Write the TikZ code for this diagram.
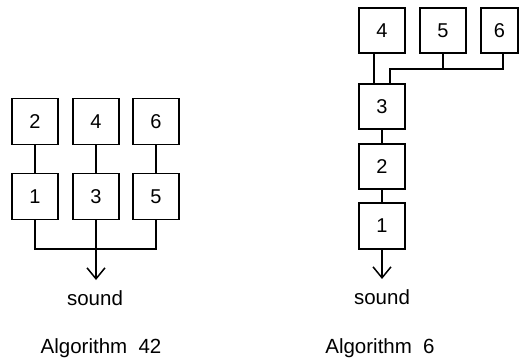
\documentclass[tikz,border=0pt]{standalone}
\usepackage{fontspec}
\setmainfont{Liberation Sans}
\usetikzlibrary{arrows.meta,calc}
\begin{document}
\begin{tikzpicture}[x=1pt,y=-1pt,
  opbox/.style={draw,line width=1.7pt,minimum width=46pt,minimum height=46pt,inner sep=0pt,font=\fontsize{20}{24}\selectfont},
  conn/.style={line width=1.4pt},
  lbl/.style={font=\fontsize{20.5}{24}\selectfont,inner sep=0pt},
  outarrow/.style={conn,-{Straight Barb[length=11pt,width=18pt,line width=1.5pt]}}]
\useasboundingbox (0,0) rectangle (519,361);
% Algorithm 42
\node[opbox] (a2) at (35,121.5) {2};
\node[opbox] (a4) at (96,121.5) {4};
\node[opbox] (a6) at (156,121.5) {6};
\node[opbox] (a1) at (35,196.5) {1};
\node[opbox] (a3) at (96,196.5) {3};
\node[opbox] (a5) at (156,196.5) {5};
\coordinate (aout) at (96,280);
\node[lbl] (asound) at (95,298) {sound};
\node[lbl] (aname) at (101,348) {Algorithm\hspace{0.55em}42};
\draw[conn] (a2) -- (a1);
\draw[conn] (a4) -- (a3);
\draw[conn] (a6) -- (a5);
\draw[conn] (a1.south) |- (96,249) -| (a5.south);
\draw[outarrow] (a3.south) -- (aout);
% Algorithm 6
\node[opbox,minimum height=45pt] (r4) at (382,30.5) {4};
\node[opbox,minimum height=45pt] (r5) at (443,30.5) {5};
\node[opbox,minimum height=45pt,minimum width=37pt] (r6) at (499.5,30.5) {6};
\node[opbox,minimum height=45pt] (r3) at (382,106.5) {3};
\node[opbox,minimum height=45pt] (r2) at (382,166.5) {2};
\node[opbox] (r1) at (382,226) {1};
\coordinate (rout) at (382,279);
\node[lbl] (rsound) at (382,297) {sound};
\node[lbl] (rname) at (380,348) {Algorithm\hspace{0.55em}6};
\draw[conn] ($(r4.south)+(-8,0)$) -- ($(r3.north)+(-8,0)$);
\draw[conn] ($(r3.north)+(8,0)$) |- (443,69) -| ($(r6.south)+(3.5,0)$);
\draw[conn] (r5.south) -- (443,69);
\draw[conn] (r3) -- (r2);
\draw[conn] (r2) -- (r1);
\draw[outarrow] (r1.south) -- (rout);
\end{tikzpicture}
\end{document}
